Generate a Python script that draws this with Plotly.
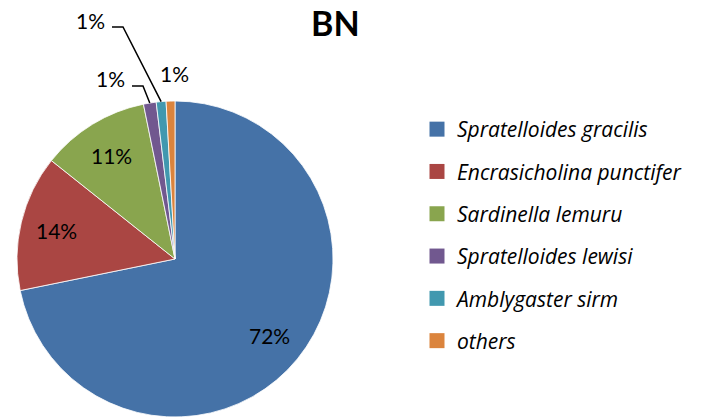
import numpy as np
import plotly.graph_objects as go

W, H = 714, 417

species = ["Spratelloides gracilis", "Encrasicholina punctifer", "Sardinella lemuru",
           "Spratelloides lewisi", "Amblygaster sirm", "others"]
shares = [71.8, 13.9, 11.1, 1.3, 1.0, 0.9]
colors = ["#4572A7", "#AA4643", "#89A54E", "#71588F", "#4198AF", "#DB843D"]

# pie geometry in pixels
cx, cy, r = 175, 259, 158
font = "Lato"

def px(x, y):
    return x / W, 1 - y / H

fig = go.Figure()
fig.add_trace(go.Pie(
    labels=species, values=shares, sort=False, direction="clockwise", rotation=0,
    marker=dict(colors=colors, line=dict(color="white", width=0.8)),
    textinfo="none", showlegend=False, hoverinfo="label+percent",
    domain=dict(x=[(cx - r) / W, (cx + r) / W], y=[0, 2 * r / H]),
))

# legend entries as dummy traces so the spacing can be set
for name, col in zip(species, colors):
    fig.add_trace(go.Scatter(
        x=[None], y=[None], mode="markers", name=name, legendgroup=name,
        marker=dict(symbol="square", size=15, color=col),
    ))

vals = np.array(shares)
cum = np.cumsum(vals) / vals.sum()
mid = (cum - vals / vals.sum() / 2) * 2 * np.pi
pct = [f"{v:.0f}%" for v in vals / vals.sum() * 100]

lab_font = dict(family=font, size=21, color="black")
annotations = [dict(x=335 / W, y=1, xref="paper", yref="paper", text="<b>BN</b>",
                    xanchor="center", yanchor="top", showarrow=False,
                    font=dict(family=font, size=34, color="black"))]
shapes = []
# big slices: label inside along the bisector
for i in range(3):
    lx = cx + 0.77 * r * np.sin(mid[i])
    ly = cy - 0.77 * r * np.cos(mid[i])
    x, y = px(lx, ly)
    annotations.append(dict(x=x, y=y, xref="paper", yref="paper", text=pct[i],
                            xanchor="center", yanchor="middle",
                            showarrow=False, font=lab_font))

# small slices: outside labels, some with leader lines (label centre, elbow)
small = {3: ((110, 79), (143, 86)), 4: ((90, 20), (123, 27)), 5: ((174, 73), None)}
for i, (lab, elbow) in small.items():
    x, y = px(*lab)
    annotations.append(dict(x=x, y=y, xref="paper", yref="paper", text=pct[i],
                            xanchor="center", yanchor="middle",
                            showarrow=False, font=lab_font))
    if elbow is not None:
        ex = cx + r * np.sin(mid[i])
        ey = cy - r * np.cos(mid[i])
        x0, y0 = px(ex, ey)
        x1, y1 = px(*elbow)
        x2, y2 = px(elbow[0] - 11, elbow[1])
        shapes.append(dict(type="path", xref="paper", yref="paper",
                           path=f"M {x0} {y0} L {x1} {y1} L {x2} {y2}",
                           line=dict(color="black", width=1.5)))

fig.update_layout(
    width=W, height=H,
    margin=dict(l=0, r=0, t=0, b=0),
    paper_bgcolor="white", plot_bgcolor="white",
    xaxis=dict(visible=False), yaxis=dict(visible=False),
    legend=dict(x=417 / W, xanchor="left", y=1 - 109 / H, yanchor="top",
                font=dict(family="Open Sans", size=21, color="black", style="italic"),
                tracegroupgap=12, bgcolor="rgba(0,0,0,0)"),
    annotations=annotations, shapes=shapes,
)

fig.write_html("out.html", config={"displayModeBar": False},
               post_script="document.body.style.margin='0';")
